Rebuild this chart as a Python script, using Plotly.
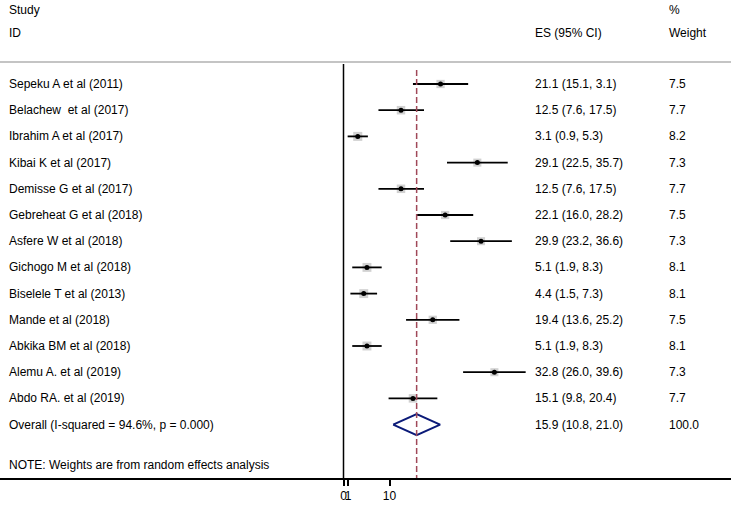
import plotly.graph_objects as go

studies = ["Sepeku A et al (2011)", "Belachew  et al (2017)", "Ibrahim A et al (2017)",
           "Kibai K et al (2017)", "Demisse G et al (2017)", "Gebreheat G et al (2018)",
           "Asfere W et al (2018)", "Gichogo M et al (2018)", "Biselele T et al (2013)",
           "Mande et al (2018)", "Abkika BM et al (2018)", "Alemu A. et al (2019)",
           "Abdo RA. et al (2019)"]
es = [21.1, 12.5, 3.1, 29.1, 12.5, 22.1, 29.9, 5.1, 4.4, 19.4, 5.1, 32.8, 15.1]
lo = [15.1, 7.6, 0.9, 22.5, 7.6, 16.0, 23.2, 1.9, 1.5, 13.6, 1.9, 26.0, 9.8]
hi = [27.1, 17.5, 5.3, 35.7, 17.5, 28.2, 36.6, 8.3, 7.3, 25.2, 8.3, 39.6, 20.4]
ci_labels = ["21.1 (15.1, 3.1)", "12.5 (7.6, 17.5)", "3.1 (0.9, 5.3)", "29.1 (22.5, 35.7)",
             "12.5 (7.6, 17.5)", "22.1 (16.0, 28.2)", "29.9 (23.2, 36.6)", "5.1 (1.9, 8.3)",
             "4.4 (1.5, 7.3)", "19.4 (13.6, 25.2)", "5.1 (1.9, 8.3)", "32.8 (26.0, 39.6)",
             "15.1 (9.8, 20.4)"]
weights = [7.5, 7.7, 8.2, 7.3, 7.7, 7.5, 7.3, 8.1, 8.1, 7.5, 8.1, 7.3, 7.7]

overall_label = "Overall (I-squared = 94.6%, p = 0.000)"
overall_es, overall_lo, overall_hi = 15.9, 10.8, 21.0
overall_ci = "15.9 (10.8, 21.0)"
overall_weight = "100.0"

tick_vals = [0, 1, 10]
tick_text = ["0", "1", "10"]

FONT = "Liberation Sans, Arial, sans-serif"
W, H = 731, 523
MB = 45
PH = H - MB
ROW0 = 84.0
STEP = 26.2
PXU = 4.6
X0 = 343.5


def yv(p):
    return -(p - ROW0) / STEP

rows = [-i for i in range(len(studies))]
oy = -len(studies)

fig = go.Figure()

# weight boxes
fig.add_trace(go.Scatter(
    x=es, y=rows, mode="markers",
    marker=dict(symbol="square", size=[w * 1.1 for w in weights], color="#bdbdbd", line=dict(width=0)),
    hoverinfo="skip", showlegend=False))

# CI lines and point estimates
fig.add_trace(go.Scatter(
    x=es, y=rows, mode="markers",
    marker=dict(symbol="circle", size=5, color="black"),
    error_x=dict(type="data", symmetric=False,
                 array=[h - e for h, e in zip(hi, es)],
                 arrayminus=[e - l for e, l in zip(es, lo)],
                 width=0, thickness=1.8, color="black"),
    showlegend=False))

# overall diamond
hh = 0.4
fig.add_trace(go.Scatter(
    x=[overall_lo, overall_es, overall_hi, overall_es, overall_lo],
    y=[oy, oy + hh, oy, oy - hh, oy],
    mode="lines", line=dict(color="#0b1a78", width=2), showlegend=False))

shapes = [
    dict(type="line", xref="paper", yref="paper", x0=0, x1=1, y0=1 - 62 / PH, y1=1 - 62 / PH,
         line=dict(color="#b0b0b0", width=1.5)),
    dict(type="line", xref="x", yref="y", x0=0, x1=0, y0=yv(64), y1=yv(PH),
         line=dict(color="black", width=1.5)),
    dict(type="line", xref="x", yref="y", x0=overall_es, x1=overall_es, y0=yv(70), y1=yv(PH),
         line=dict(color="#a04858", width=1.5, dash="6px,3px")),
]

ann = []
def txt(x_px, y_val, s):
    ann.append(dict(x=x_px / W, y=y_val, xref="paper", yref="y", text=s, showarrow=False,
                    xanchor="left", yanchor="middle", font=dict(family=FONT, size=12, color="black")))

COL1, COL2, COL3 = 7, 533, 667
txt(COL1, yv(10), "Study")
txt(COL1, yv(33), "ID")
txt(COL2, yv(33), "ES (95% CI)")
txt(COL3, yv(10), "%")
txt(COL3, yv(33), "Weight")
for i, s in enumerate(studies):
    txt(COL1, rows[i], s)
    txt(COL2, rows[i], ci_labels[i])
    txt(COL3, rows[i], f"{weights[i]:.1f}")
txt(COL1, oy, overall_label)
txt(COL2, oy, overall_ci)
txt(COL3, oy, overall_weight)
txt(COL1, yv(465), "NOTE: Weights are from random effects analysis")

fig.update_layout(
    width=W, height=H, margin=dict(l=0, r=0, t=0, b=MB, pad=0),
    paper_bgcolor="white", plot_bgcolor="white",
    shapes=shapes, annotations=ann,
    xaxis=dict(range=[-X0 / PXU, (W - X0) / PXU], showgrid=False, zeroline=False,
               showline=True, linecolor="black", linewidth=1.5, automargin=False,
               tickvals=tick_vals, ticktext=tick_text, ticks="outside", ticklen=6,
               tickangle=0, tickcolor="black", tickwidth=1.5,
               tickfont=dict(family=FONT, size=12, color="black")),
    yaxis=dict(range=[yv(PH), yv(0)], showgrid=False, zeroline=False, showticklabels=False,
               showline=False, automargin=False),
)

fig.write_html("out.html", config={"displayModeBar": False},
               post_script="document.body.style.margin='0';document.body.style.overflow='hidden';")
